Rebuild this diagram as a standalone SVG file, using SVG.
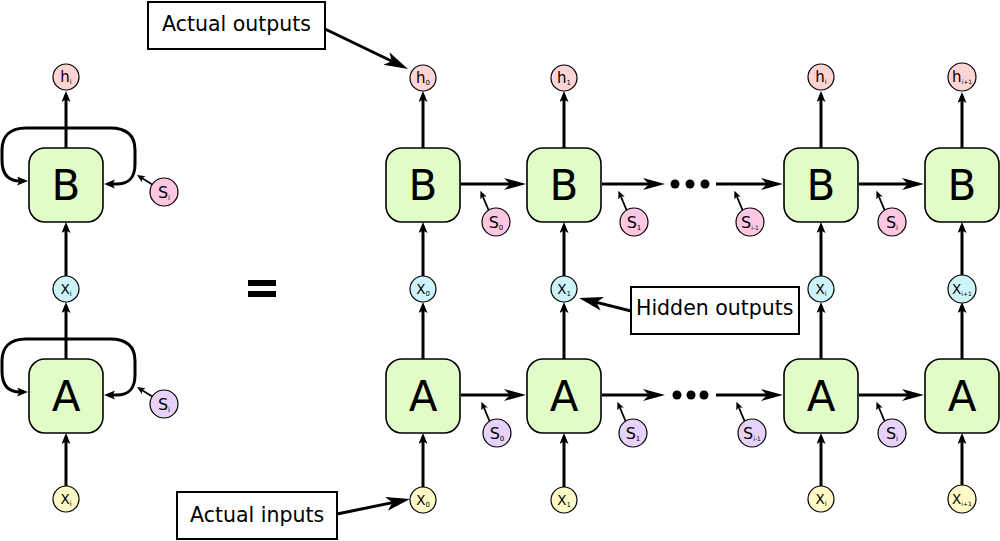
<svg xmlns="http://www.w3.org/2000/svg" width="1000" height="541" viewBox="0 0 1000 541">
<style>
.box{fill:#e1fcc6;stroke:#000;stroke-width:1.6}
.c{stroke:#000;stroke-width:1.2}
.h{fill:#ffd4d4}.sb{fill:#ffc8e2}.sa{fill:#e6d2fa}.xb{fill:#cdf4fb}.xy{fill:#fffbc8}
.big{font-family:"DejaVu Sans",Verdana,sans-serif;font-size:42px;text-anchor:middle}
.lbl{font-family:"DejaVu Sans",Verdana,sans-serif;font-size:20.5px}
.ct{font-family:"DejaVu Sans",Verdana,sans-serif;text-anchor:middle}
.th{font-size:15px}.ts{font-size:16px}.tx{font-size:13.5px}
.sub{font-size:7px}.sub3{font-size:6px}
.ln{stroke:#000;stroke-width:3;fill:none}
.thin{stroke:#000;stroke-width:1.8;fill:none}
.note{fill:#fff;stroke:#000;stroke-width:2}
</style>
<defs>
<marker id="v" markerUnits="userSpaceOnUse" markerWidth="12" markerHeight="10" refX="7" refY="4.5" orient="auto-start-reverse"><path d="M0,0 L11,4.5 L0,9 L2.5,4.5 Z"/></marker>
<marker id="big" markerUnits="userSpaceOnUse" markerWidth="24" markerHeight="13" refX="14" refY="6" orient="auto"><path d="M0,0 L22,6 L0,12 L6,6 Z"/></marker>
<marker id="big2" markerUnits="userSpaceOnUse" markerWidth="26" markerHeight="15" refX="16" refY="7" orient="auto"><path d="M0,0 L24,7 L0,14 L6,7 Z"/></marker>
<marker id="sm" markerUnits="userSpaceOnUse" markerWidth="9" markerHeight="8" refX="5" refY="3.5" orient="auto"><path d="M0,0 L8,3.5 L0,7 L2,3.5 Z"/></marker>
</defs>

<g id="connectors">
<line class="ln" x1="66" y1="148" x2="66" y2="95" marker-end="url(#v)"/>
<line class="ln" x1="66" y1="276" x2="66" y2="226" marker-end="url(#v)"/>
<line class="ln" x1="66" y1="359" x2="66" y2="306" marker-end="url(#v)"/>
<line class="ln" x1="66" y1="486" x2="66" y2="437" marker-end="url(#v)"/>
<path class="ln" stroke-width="2.6" d="M108,184 H116 C129,184 135,178 135,164 V150 C135,136 128,128 110,128 H26 C10,128 2,136 2,150 V160 C2,174 8,181 20,181 H24" marker-start="url(#v)" marker-end="url(#v)"/>
<path class="ln" stroke-width="2.6" d="M108,395 H116 C129,395 135,389 135,375 V361 C135,347 128,339 110,339 H26 C10,339 2,347 2,361 V371 C2,385 8,392 20,392 H24" marker-start="url(#v)" marker-end="url(#v)"/>
<line class="thin" x1="152.2" y1="184.5" x2="139.5" y2="176.6" marker-end="url(#sm)"/>
<line class="thin" x1="152.2" y1="396.5" x2="139.5" y2="388.6" marker-end="url(#sm)"/>

<line class="ln" x1="423" y1="148" x2="423" y2="95" marker-end="url(#v)"/>
<line class="ln" x1="423" y1="276" x2="423" y2="226" marker-end="url(#v)"/>
<line class="ln" x1="423" y1="359" x2="423" y2="306" marker-end="url(#v)"/>
<line class="ln" x1="423" y1="487" x2="423" y2="437" marker-end="url(#v)"/>
<line class="ln" x1="564" y1="148" x2="564" y2="95" marker-end="url(#v)"/>
<line class="ln" x1="564" y1="276" x2="564" y2="226" marker-end="url(#v)"/>
<line class="ln" x1="564" y1="359" x2="564" y2="306" marker-end="url(#v)"/>
<line class="ln" x1="564" y1="487" x2="564" y2="437" marker-end="url(#v)"/>
<line class="ln" x1="821" y1="148" x2="821" y2="95" marker-end="url(#v)"/>
<line class="ln" x1="821" y1="276" x2="821" y2="226" marker-end="url(#v)"/>
<line class="ln" x1="821" y1="359" x2="821" y2="306" marker-end="url(#v)"/>
<line class="ln" x1="821" y1="486" x2="821" y2="437" marker-end="url(#v)"/>
<line class="ln" x1="962" y1="148" x2="962" y2="96" marker-end="url(#v)"/>
<line class="ln" x1="962" y1="276" x2="962" y2="226" marker-end="url(#v)"/>
<line class="ln" x1="962" y1="359" x2="962" y2="306" marker-end="url(#v)"/>
<line class="ln" x1="962" y1="486" x2="962" y2="437" marker-end="url(#v)"/>

<line class="ln" x1="461" y1="184" x2="518" y2="184" marker-end="url(#big)"/>
<line class="ln" x1="602" y1="184" x2="657" y2="184" marker-end="url(#big)"/>
<line class="ln" x1="716" y1="184" x2="775" y2="184" marker-end="url(#big)"/>
<line class="ln" x1="859" y1="184" x2="916" y2="184" marker-end="url(#big)"/>
<line class="ln" x1="461" y1="395" x2="518" y2="395" marker-end="url(#big)"/>
<line class="ln" x1="602" y1="395" x2="657" y2="395" marker-end="url(#big)"/>
<line class="ln" x1="716" y1="395" x2="775" y2="395" marker-end="url(#big)"/>
<line class="ln" x1="859" y1="395" x2="916" y2="395" marker-end="url(#big)"/>

<circle cx="675" cy="184" r="4.5"/><circle cx="690" cy="184" r="4.5"/><circle cx="705" cy="184" r="4.5"/>
<circle cx="677" cy="395" r="4.5"/><circle cx="691" cy="395" r="4.5"/><circle cx="704" cy="395" r="4.5"/>

<line class="thin" x1="488.6" y1="210.1" x2="481.6" y2="193.5" marker-end="url(#sm)"/>
<line class="thin" x1="626.6" y1="210.1" x2="619.6" y2="193.5" marker-end="url(#sm)"/>
<line class="thin" x1="742.6" y1="210.1" x2="735.6" y2="193.5" marker-end="url(#sm)"/>
<line class="thin" x1="884.6" y1="210.1" x2="877.6" y2="193.5" marker-end="url(#sm)"/>
<line class="thin" x1="489.6" y1="421.1" x2="482.6" y2="404.5" marker-end="url(#sm)"/>
<line class="thin" x1="625.6" y1="421.1" x2="618.6" y2="404.5" marker-end="url(#sm)"/>
<line class="thin" x1="744.6" y1="421.1" x2="737.6" y2="404.5" marker-end="url(#sm)"/>
<line class="thin" x1="884.6" y1="421.1" x2="877.6" y2="404.5" marker-end="url(#sm)"/>

<line class="ln" x1="325" y1="29" x2="400.8" y2="65.5" marker-end="url(#big2)"/>
<line class="ln" x1="337" y1="514" x2="402.2" y2="500.6" marker-end="url(#big2)"/>
<line class="ln" x1="631" y1="311" x2="586.8" y2="299.9" marker-end="url(#big2)"/>
</g>

<g id="equals">
<rect x="248" y="280" width="28" height="6"/>
<rect x="248" y="291" width="28" height="6"/>
</g>

<g id="L_h"><circle class="c h" cx="66" cy="77" r="13"/><text class="ct th" x="66" y="82">h<tspan class="sub" dy="2">i</tspan></text></g>
<g id="L_B"><rect class="box" x="29" y="148" width="74" height="74" rx="16"/><text class="big" x="66" y="200">B</text></g>
<g id="L_S_B"><circle class="c sb" cx="164" cy="192" r="14"/><text class="ct ts" x="164" y="198">S<tspan class="sub" dy="2">i</tspan></text></g>
<g id="L_X_hidden"><circle class="c xb" cx="66" cy="289" r="13"/><text class="ct tx" x="66" y="294">X<tspan class="sub" dy="2">i</tspan></text></g>
<g id="L_A"><rect class="box" x="29" y="359" width="74" height="74" rx="16"/><text class="big" x="66" y="411">A</text></g>
<g id="L_S_A"><circle class="c sa" cx="164" cy="404" r="14"/><text class="ct ts" x="164" y="410">S<tspan class="sub" dy="2">i</tspan></text></g>
<g id="L_X_in"><circle class="c xy" cx="66" cy="499" r="13"/><text class="ct tx" x="66" y="504">X<tspan class="sub" dy="2">i</tspan></text></g>

<g id="h0"><circle class="c h" cx="423" cy="78" r="13"/><text class="ct th" x="423" y="83">h<tspan class="sub" dy="2">0</tspan></text></g>
<g id="B0"><rect class="box" x="386" y="148" width="74" height="74" rx="16"/><text class="big" x="423" y="200">B</text></g>
<g id="xh0"><circle class="c xb" cx="423" cy="289" r="13"/><text class="ct tx" x="423" y="294">X<tspan class="sub" dy="2">0</tspan></text></g>
<g id="A0"><rect class="box" x="386" y="359" width="74" height="74" rx="16"/><text class="big" x="423" y="411">A</text></g>
<g id="x0"><circle class="c xy" cx="423" cy="500" r="13"/><text class="ct tx" x="423" y="505">X<tspan class="sub" dy="2">0</tspan></text></g>

<g id="h1"><circle class="c h" cx="564" cy="78" r="13"/><text class="ct th" x="564" y="83">h<tspan class="sub" dy="2">1</tspan></text></g>
<g id="B1"><rect class="box" x="527" y="148" width="74" height="74" rx="16"/><text class="big" x="564" y="200">B</text></g>
<g id="xh1"><circle class="c xb" cx="564" cy="289" r="13"/><text class="ct tx" x="564" y="294">X<tspan class="sub" dy="2">1</tspan></text></g>
<g id="A1"><rect class="box" x="527" y="359" width="74" height="74" rx="16"/><text class="big" x="564" y="411">A</text></g>
<g id="x1"><circle class="c xy" cx="564" cy="500" r="13"/><text class="ct tx" x="564" y="505">X<tspan class="sub" dy="2">1</tspan></text></g>

<g id="hi"><circle class="c h" cx="821" cy="77" r="13"/><text class="ct th" x="821" y="82">h<tspan class="sub" dy="2">i</tspan></text></g>
<g id="Bi"><rect class="box" x="784" y="148" width="74" height="74" rx="16"/><text class="big" x="821" y="200">B</text></g>
<g id="xhi"><circle class="c xb" cx="821" cy="289" r="13"/><text class="ct tx" x="821" y="294">X<tspan class="sub" dy="2">i</tspan></text></g>
<g id="Ai"><rect class="box" x="784" y="359" width="74" height="74" rx="16"/><text class="big" x="821" y="411">A</text></g>
<g id="xi"><circle class="c xy" cx="821" cy="499" r="13"/><text class="ct tx" x="821" y="504">X<tspan class="sub" dy="2">i</tspan></text></g>

<g id="hi1"><circle class="c h" cx="962" cy="77" r="14"/><text class="ct th" x="962" y="82">h<tspan class="sub3" dy="2">i+1</tspan></text></g>
<g id="Bi1"><rect class="box" x="925" y="148" width="74" height="74" rx="16"/><text class="big" x="962" y="200">B</text></g>
<g id="xhi1"><circle class="c xb" cx="962" cy="289" r="14"/><text class="ct tx" x="962" y="294">X<tspan class="sub3" dy="2">i+1</tspan></text></g>
<g id="Ai1"><rect class="box" x="925" y="359" width="74" height="74" rx="16"/><text class="big" x="962" y="411">A</text></g>
<g id="xi1"><circle class="c xy" cx="962" cy="499" r="14"/><text class="ct tx" x="962" y="504">X<tspan class="sub3" dy="2">i+1</tspan></text></g>

<g id="SB0"><circle class="c sb" cx="496" cy="222" r="14"/><text class="ct ts" x="496" y="228">S<tspan class="sub" dy="2">0</tspan></text></g>
<g id="SB1"><circle class="c sb" cx="634" cy="222" r="14"/><text class="ct ts" x="634" y="228">S<tspan class="sub" dy="2">1</tspan></text></g>
<g id="SBim1"><circle class="c sb" cx="750" cy="222" r="14"/><text class="ct ts" x="750" y="228">S<tspan class="sub3" dy="2">i-1</tspan></text></g>
<g id="SBi"><circle class="c sb" cx="892" cy="222" r="14"/><text class="ct ts" x="892" y="228">S<tspan class="sub" dy="2">i</tspan></text></g>

<g id="SA0"><circle class="c sa" cx="497" cy="433" r="14"/><text class="ct ts" x="497" y="439">S<tspan class="sub" dy="2">0</tspan></text></g>
<g id="SA1"><circle class="c sa" cx="633" cy="433" r="14"/><text class="ct ts" x="633" y="439">S<tspan class="sub" dy="2">1</tspan></text></g>
<g id="SAim1"><circle class="c sa" cx="752" cy="433" r="14"/><text class="ct ts" x="752" y="439">S<tspan class="sub3" dy="2">i-1</tspan></text></g>
<g id="SAi"><circle class="c sa" cx="892" cy="433" r="14"/><text class="ct ts" x="892" y="439">S<tspan class="sub" dy="2">i</tspan></text></g>

<g id="note_outputs"><rect class="note" x="148" y="2" width="177" height="47"/><text class="lbl" x="162" y="31">Actual outputs</text></g>
<g id="note_inputs"><rect class="note" x="177" y="492" width="160" height="47"/><text class="lbl" x="190" y="522">Actual inputs</text></g>
<g id="note_hidden"><rect class="note" x="631" y="287" width="168" height="47"/><text class="lbl" x="636" y="315">Hidden outputs</text></g>
</svg>
